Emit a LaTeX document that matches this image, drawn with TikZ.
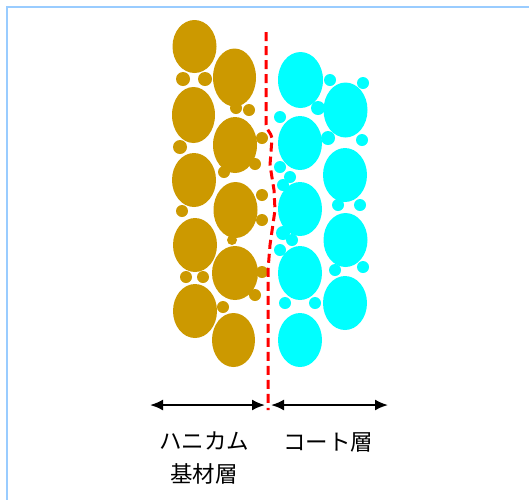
\documentclass[tikz,border=0pt]{standalone}
\usepackage{fontspec}
\newfontfamily\jpfont{Noto Sans CJK JP}
\usepackage{tikz}
\usetikzlibrary{arrows.meta,positioning,calc}
\tikzset{>={Latex[length=13pt,width=11pt]}}

\definecolor{honeygold}{RGB}{204,153,0}
\definecolor{coatcyan}{RGB}{0,255,255}
\definecolor{framebl}{RGB}{153,204,255}

\tikzset{
  grain/.style = {fill=honeygold},
  coat/.style  = {fill=coatcyan},
  boundary/.style = {red, line width=3pt, dash pattern=on 9pt off 5pt},
  span/.style = {<->, line width=2pt, black},
  tag/.style = {font=\jpfont\fontsize{22.5}{33}\selectfont, align=center, inner sep=0pt}
}

\begin{document}
\begin{tikzpicture}[x=1pt,y=-1pt]
\useasboundingbox (0,0) rectangle (529,499);
\begin{scope}
\clip (0,0) rectangle (529,499);
\draw[framebl, line width=2pt] (7,7) rectangle (560,530);
\end{scope}

% honeycomb substrate: big grains
\foreach \cx/\cy/\rx/\ry in {194.5/46.5/22/26.5, 193.5/115/21.5/28, 194/180/22/27,
    195/245/22/27, 195/311/22/27, 234.5/77.5/21.5/29, 235/145/22/28,
    235.5/210/22/28, 235/273/23/27, 233.5/340/21.5/27}
  \fill[grain] (\cx,\cy) ellipse [x radius=\rx, y radius=\ry];
% honeycomb substrate: small grains
\foreach \cx/\cy/\r in {183/79/7, 205/79/7, 236/108/6, 249/110/6, 180/147/7,
    262/138/6, 255/164/6, 224/172/6, 182/211/6, 262/195/6, 262/220/6,
    232/240/5, 186/277/6, 203/277/6, 262/272/6, 255/295/6, 223/307/6}
  \fill[grain] (\cx,\cy) circle [radius=\r];

% coat layer: big grains
\foreach \cx/\cy/\rx/\ry in {300.5/80/22.5/28, 300/143/22/27, 300/209/22/27,
    300/273/22/27, 300/340/22/27, 345.5/110/22/27.5, 345/175/22/27,
    345.5/240/22/27, 345/303/22/27}
  \fill[coat] (\cx,\cy) ellipse [x radius=\rx, y radius=\ry];
% coat layer: small grains
\foreach \cx/\cy/\r in {330/80/6, 363/83/6, 318/108/7, 280/117/6, 328/138/7,
    362/140/6, 280/167/6, 290/177/6, 283/185/6, 338/205/6, 360/205/6,
    283/233/7, 292/240/6, 280/250/6, 335/270/6, 363/267/6, 285/303/6, 315/303/6}
  \fill[coat] (\cx,\cy) circle [radius=\r];

% interface between the layers
\draw[boundary] (266,32) -- (266,124) to[out=-90,in=100] (272,138)
  -- (270,165) -- (274,190) -- (275,210) -- (270,245) -- (268,270) -- (268,410);

\coordinate (left) at (150,405);
\coordinate (mid) at (268,405);
\coordinate (right) at (388,405);
\draw[span] (left) -- ([xshift=-3pt]mid);
\draw[span] ([xshift=3pt]mid) -- (right);

\node[tag] (base) at (204,458) {ハニカム\\基材層};
\node[tag] (coatlbl) at (328,442) {コート層};
\end{tikzpicture}
\end{document}
